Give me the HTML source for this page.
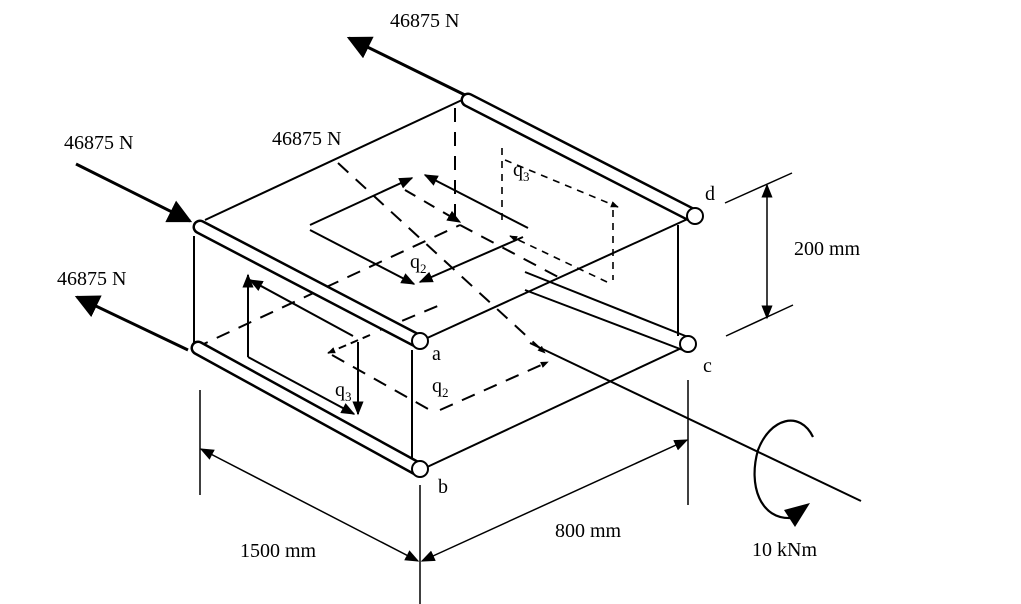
<!DOCTYPE html>
<html><head><meta charset="utf-8"><style>
html,body{margin:0;padding:0;background:#fff}
svg{display:block}
text{font-family:"Liberation Serif",serif;font-size:20px;fill:#000}
</style></head><body>
<svg width="1021" height="604" viewBox="0 0 1021 604" xmlns="http://www.w3.org/2000/svg">
<defs>
<marker id="ah" viewBox="0 0 10 10" refX="9" refY="5" markerWidth="8" markerHeight="8" orient="auto-start-reverse" markerUnits="userSpaceOnUse"><path d="M0,1 L10,5 L0,9 z"/></marker>
<marker id="big" viewBox="0 0 10 10" refX="9" refY="5" markerWidth="24" markerHeight="24" orient="auto" markerUnits="userSpaceOnUse"><path d="M0,0 L10,5 L0,10 z"/></marker>
<marker id="med" viewBox="0 0 10 10" refX="9" refY="5" markerWidth="14" markerHeight="14" orient="auto-start-reverse" markerUnits="userSpaceOnUse"><path d="M0,1 L10,5 L0,9 z"/></marker>
</defs>
<g stroke="#000" stroke-width="2" fill="none">
<g stroke-dasharray="14,10">
<line x1="195" y1="348" x2="460" y2="225"/>
<line x1="460" y1="225" x2="560" y2="278"/>
<line x1="338" y1="163" x2="545" y2="353" marker-end="url(#ah)"/>
<line x1="455" y1="108" x2="455" y2="222"/>
<line x1="332" y1="355" x2="430" y2="410"/>
<line x1="440" y1="410" x2="548" y2="362" marker-end="url(#ah)"/>
<line x1="380" y1="330" x2="440" y2="305"/>
</g>
<line x1="370" y1="335" x2="328" y2="353" stroke-dasharray="8,5" marker-end="url(#ah)"/>
<g stroke-dasharray="7,6" stroke-width="1.6">
<line x1="502" y1="148" x2="502" y2="225"/>
<line x1="505" y1="160" x2="618" y2="207" marker-end="url(#ah)"/>
<line x1="613" y1="210" x2="613" y2="280"/>
<line x1="607" y1="282" x2="510" y2="236" marker-end="url(#ah)"/>
</g>
<line x1="205" y1="220" x2="462" y2="100"/>
<line x1="425" y1="339" x2="692" y2="217"/>
<line x1="425" y1="468" x2="688" y2="345"/>
<line x1="194" y1="236" x2="194" y2="346"/>
<line x1="412" y1="350" x2="412" y2="464"/>
<line x1="678" y1="225" x2="678" y2="336"/>
<line x1="530" y1="343" x2="861" y2="501"/>
<line x1="310" y1="225" x2="412" y2="178" marker-end="url(#med)"/>
<line x1="528" y1="228" x2="425" y2="175" marker-end="url(#med)"/>
<line x1="523" y1="237" x2="420" y2="282" marker-end="url(#med)"/>
<line x1="310" y1="230" x2="414" y2="284" marker-end="url(#med)"/>
<line x1="405" y1="190" x2="460" y2="222" stroke-dasharray="12,10" marker-end="url(#med)"/>
<line x1="248" y1="357" x2="248" y2="275" marker-end="url(#med)"/>
<line x1="353" y1="336" x2="250" y2="280" marker-end="url(#med)"/>
<line x1="248" y1="357" x2="354" y2="414" marker-end="url(#med)"/>
<line x1="358" y1="342" x2="358" y2="414" marker-end="url(#med)"/>
<g stroke-linecap="round">
<line x1="200" y1="227" x2="418" y2="341" stroke-width="15"/>
<line x1="200" y1="227" x2="418" y2="341" stroke="#fff" stroke-width="10"/>
<line x1="468" y1="100" x2="694" y2="216" stroke-width="15"/>
<line x1="468" y1="100" x2="694" y2="216" stroke="#fff" stroke-width="10"/>
<line x1="198" y1="348" x2="418" y2="469" stroke-width="15"/>
<line x1="198" y1="348" x2="418" y2="469" stroke="#fff" stroke-width="10"/>
</g>
<line x1="525" y1="272" x2="688" y2="337"/>
<line x1="525" y1="290" x2="688" y2="352"/>
<circle cx="420" cy="341" r="8" fill="#fff"/>
<circle cx="420" cy="469" r="8" fill="#fff"/>
<circle cx="695" cy="216" r="8" fill="#fff"/>
<circle cx="688" cy="344" r="8" fill="#fff"/>
<line x1="465" y1="95" x2="349" y2="38" stroke-width="3" marker-end="url(#big)"/>
<line x1="76" y1="164" x2="190" y2="221" stroke-width="3" marker-end="url(#big)"/>
<line x1="188" y1="350" x2="77" y2="297" stroke-width="3" marker-end="url(#big)"/>
<path d="M813,437 C800,410 770,418 758,450 C748,485 760,520 792,518" stroke-width="2.2"/>
<path d="M784,510 L810,503 L795,527 z" fill="#000" stroke="none"/>
<line x1="725" y1="203" x2="792" y2="173" stroke-width="1.5"/>
<line x1="726" y1="336" x2="793" y2="305" stroke-width="1.5"/>
<line x1="767" y1="318" x2="767" y2="185" stroke-width="1.5" marker-end="url(#med)" marker-start="url(#med)"/>
<line x1="200" y1="390" x2="200" y2="495" stroke-width="1.5"/>
<line x1="420" y1="485" x2="420" y2="604" stroke-width="1.5"/>
<line x1="688" y1="380" x2="688" y2="505" stroke-width="1.5"/>
<line x1="201" y1="449" x2="418" y2="561" stroke-width="1.5" marker-end="url(#med)" marker-start="url(#med)"/>
<line x1="422" y1="561" x2="687" y2="440" stroke-width="1.5" marker-end="url(#med)" marker-start="url(#med)"/>
</g>
<text x="390" y="27">46875 N</text>
<text x="64" y="149">46875 N</text>
<text x="272" y="145">46875 N</text>
<text x="57" y="285">46875 N</text>
<text x="794" y="255">200 mm</text>
<text x="240" y="557">1500 mm</text>
<text x="555" y="537">800 mm</text>
<text x="752" y="556">10 kNm</text>
<text x="705" y="200">d</text>
<text x="432" y="360">a</text>
<text x="703" y="372">c</text>
<text x="438" y="493">b</text>
<text x="410" y="268">q<tspan font-size="13" dy="5">2</tspan></text>
<text x="432" y="392">q<tspan font-size="13" dy="5">2</tspan></text>
<text x="513" y="176">q<tspan font-size="13" dy="5">3</tspan></text>
<text x="335" y="396">q<tspan font-size="13" dy="5">3</tspan></text>
</svg>
</body></html>
